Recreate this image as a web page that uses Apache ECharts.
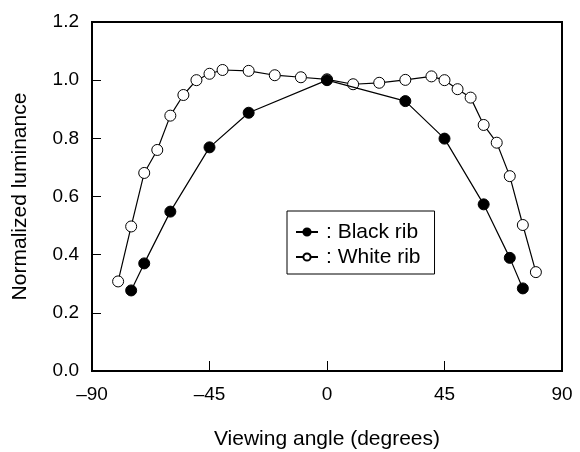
<!DOCTYPE html>
<html><head><meta charset="utf-8">
<script src="https://cdn.jsdelivr.net/npm/echarts@6/dist/echarts.min.js"></script>
<style>html,body{margin:0;padding:0;background:#fff}#c{width:580px;height:452px}</style>
</head><body><div id="c"></div>
<script>
const blackAngles = [-75, -70, -60, -45, -30, 0, 30, 45, 60, 70, 75];
const blackValues = [0.277, 0.37, 0.548, 0.769, 0.888, 1.0, 0.928, 0.799, 0.573, 0.389, 0.284];
const whiteAngles = [-80, -75, -70, -65, -60, -55, -50, -45, -40, -30, -20, -10, 0, 10, 20, 30, 40, 45, 50, 55, 60, 65, 70, 75, 80];
const whiteValues = [0.308, 0.497, 0.681, 0.760, 0.878, 0.949, 1.0, 1.022, 1.035, 1.032, 1.017, 1.010, 1.003, 0.986, 0.991, 1.001, 1.013, 1.0, 0.969, 0.940, 0.846, 0.785, 0.670, 0.502, 0.340];
const seriesNames = [': Black rib', ': White rib'];
const xTitle = 'Viewing angle (degrees)';
const yTitle = 'Normalized luminance';

const font = 'Liberation Sans, Arial, sans-serif';
const chart = echarts.init(document.getElementById('c'));
const pair = (xs, ys) => xs.map((x, i) => [x, ys[i]]);
chart.setOption({
  animation: false,
  grid: { left: 92, right: 18, top: 22, bottom: 81, show: false, containLabel: false, outerBoundsMode: 'none' },
  xAxis: {
    type: 'value', min: -90, max: 90, interval: 45,
    name: xTitle, nameLocation: 'middle', nameGap: 58,
    nameTextStyle: { fontFamily: font, fontSize: 21, color: '#000' },
    axisLine: { show: true, onZero: false, lineStyle: { color: '#000', width: 2 } },
    axisTick: { show: true, inside: true, length: 10, lineStyle: { color: '#000', width: 1 } },
    axisLabel: { fontFamily: font, fontSize: 19, color: '#000', margin: 14,
      formatter: v => String(v).replace('-', '\u2013') },
    splitLine: { show: false }
  },
  yAxis: {
    type: 'value', min: 0, max: 1.2, interval: 0.2,
    name: yTitle, nameLocation: 'middle', nameGap: 61,
    nameTextStyle: { fontFamily: font, fontSize: 21, color: '#000' },
    axisLine: { show: true, onZero: false, lineStyle: { color: '#000', width: 2 } },
    axisTick: { show: true, inside: true, length: 9, lineStyle: { color: '#000', width: 1 } },
    axisLabel: { fontFamily: font, fontSize: 19, color: '#000', margin: 13,
      formatter: v => v.toFixed(1) },
    splitLine: { show: false }
  },
  graphic: [{
    type: 'rect', shape: { x: 92, y: 22, width: 470, height: 349 },
    style: { fill: 'none', stroke: '#000', lineWidth: 2 }, silent: true, z: 10
  }],
  legend: {
    orient: 'vertical', left: 287, top: 211,
    backgroundColor: '#fff', borderColor: '#000', borderWidth: 1,
    padding: [10, 14, 6, 8], itemGap: 3, itemWidth: 22, itemHeight: 9,
    textStyle: { fontFamily: font, fontSize: 21, lineHeight: 22, color: '#000', padding: [0, 0, 0, 3] },
    data: seriesNames
  },
  series: [
    { name: seriesNames[0], type: 'line', data: pair(blackAngles, blackValues),
      symbol: 'circle', symbolSize: 11, lineStyle: { color: '#000', width: 1.2 },
      itemStyle: { color: '#000', borderColor: '#000', borderWidth: 1 }, z: 3 },
    { name: seriesNames[1], type: 'line', data: pair(whiteAngles, whiteValues),
      symbol: 'circle', symbolSize: 11, lineStyle: { color: '#000', width: 1.2 },
      itemStyle: { color: '#fff', borderColor: '#000', borderWidth: 1 }, z: 2 }
  ]
});
</script></body></html>
